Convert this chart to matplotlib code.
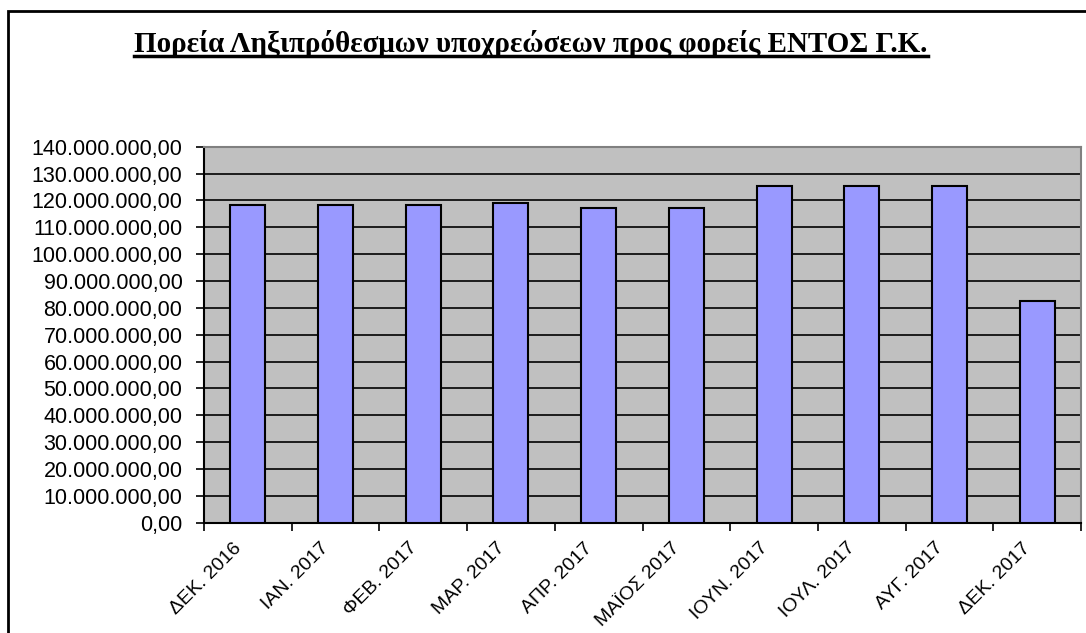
import matplotlib
matplotlib.use("Agg")
import matplotlib.pyplot as plt
from matplotlib.patches import Rectangle
from matplotlib.lines import Line2D
from matplotlib.ticker import FuncFormatter, MultipleLocator

# data
months = ["ΔΕΚ. 2016", "ΙΑΝ. 2017", "ΦΕΒ. 2017", "ΜΑΡ. 2017", "ΑΠΡ. 2017",
          "ΜΑΪΟΣ 2017", "ΙΟΥΝ. 2017", "ΙΟΥΛ. 2017", "ΑΥΓ. 2017", "ΔΕΚ. 2017"]
overdue = [118.4e6, 118.4e6, 118.4e6, 118.9e6, 117.1e6,
           117.1e6, 125.2e6, 125.2e6, 125.2e6, 82.7e6]
title = "Πορεία Ληξιπρόθεσμων υποχρεώσεων προς φορείς ΕΝΤΟΣ Γ.Κ."

W, H = 1086, 633
fig = plt.figure(figsize=(W / 100, H / 100), dpi=100)
fig.patch.set_facecolor("white")

# outer chart border (open to the right and bottom like the crop)
fig.patches.append(Rectangle((8 / W, -0.1), 1.2, 1 - 11 / H + 0.1,
                             transform=fig.transFigure, fill=False,
                             edgecolor="black", linewidth=2))

ax = fig.add_axes([204 / W, (H - 522.7) / H, 877 / W, 376 / H])
ax.set_facecolor("#C0C0C0")

x = list(range(len(months)))
ax.bar(x, overdue, width=0.4, color="#9999FF", edgecolor="black",
       linewidth=1.5, zorder=3)

ax.set_xlim(-0.5, len(months) - 0.5)
ax.set_ylim(0, 140e6)
ax.yaxis.set_major_locator(MultipleLocator(10e6))


def gr_fmt(v, pos):
    s = f"{v:,.2f}"
    return s.replace(",", "X").replace(".", ",").replace("X", ".")


ax.yaxis.set_major_formatter(FuncFormatter(gr_fmt))
ax.grid(axis="y", color="black", linewidth=1.2, zorder=1)
ax.set_axisbelow(True)

# labels sit a little left of the bar centre, like in Excel
ax.set_xticks([i - 0.17 for i in x])
ax.set_xticklabels(months, rotation=45, ha="right", rotation_mode="anchor",
                   family="Liberation Sans", fontsize=14)
ax.set_xticks([i + 0.5 for i in range(-1, len(months))], minor=True)
ax.tick_params(axis="x", which="major", length=0, pad=12)
ax.tick_params(axis="x", which="minor", length=5.5, width=1.2, direction="out")
ax.tick_params(axis="y", length=5.5, width=1.2, direction="out", pad=10)
for lab in ax.get_yticklabels():
    lab.set_family("Liberation Sans")
    lab.set_fontsize(15.5)

for side in ("left", "bottom"):
    ax.spines[side].set_color("black")
    ax.spines[side].set_linewidth(1.5)
for side in ("top", "right"):
    ax.spines[side].set_color("#808080")
    ax.spines[side].set_linewidth(1.5)

t = fig.text(531 / W, 1 - 52 / H, title, ha="center", va="baseline",
             family="Liberation Serif", fontweight="bold", fontsize=20.9)

# underline under the title
fig.canvas.draw()
bb = t.get_window_extent(fig.canvas.get_renderer())
uy = 1 - 56 / H
fig.lines.append(Line2D([bb.x0 / W, bb.x1 / W], [uy, uy],
                        transform=fig.transFigure, color="black", linewidth=2.5))

fig.savefig("out.png", dpi=100)
